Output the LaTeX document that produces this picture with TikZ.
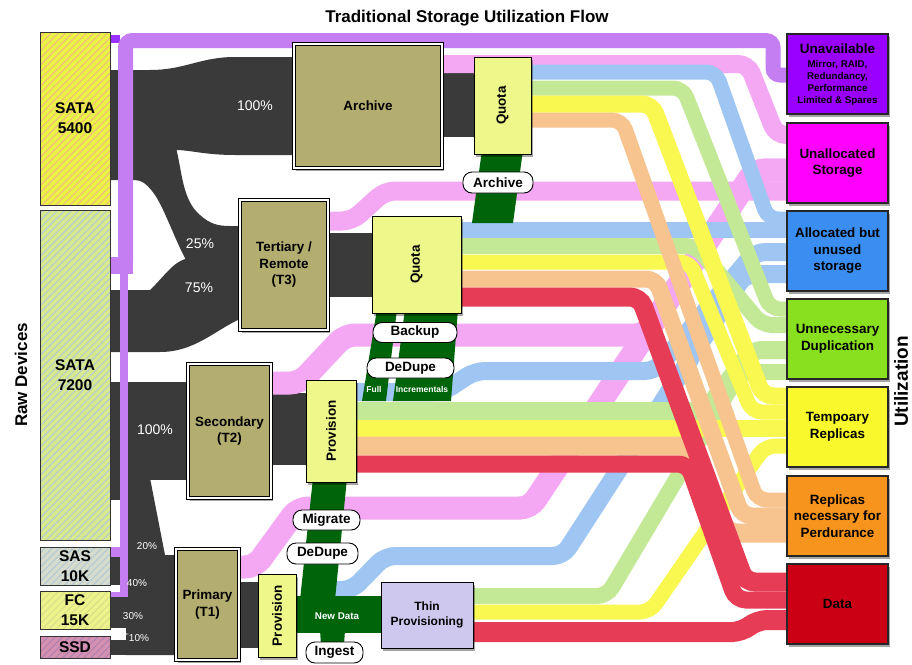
\documentclass[tikz,border=0pt]{standalone}
\usepackage{fontspec}
\setmainfont{Liberation Sans}
\usetikzlibrary{shadows,patterns.meta}
\definecolor{blk}{HTML}{3A3A3A}
\definecolor{purp}{HTML}{C47EF2}
\definecolor{purpdark}{HTML}{9B30FF}
\definecolor{pinkb}{HTML}{F4A8F4}
\definecolor{blueb}{HTML}{9FC5F2}
\definecolor{greenb}{HTML}{C3E997}
\definecolor{yellowb}{HTML}{F8F850}
\definecolor{orangeb}{HTML}{F7C38E}
\definecolor{redb}{HTML}{E63C55}
\definecolor{dgreen}{HTML}{00650A}
\definecolor{tierfill}{HTML}{B3AD70}
\definecolor{quotafill}{HTML}{EEF78A}
\definecolor{thinfill}{HTML}{CFC8EE}
\definecolor{sata5}{HTML}{EAF244}
\definecolor{sata5s}{HTML}{F2B882}
\definecolor{sata7}{HTML}{D8E88C}
\definecolor{sata7s}{HTML}{AFCAD8}
\definecolor{sasc}{HTML}{D6DCCB}
\definecolor{sascs}{HTML}{B2C8D8}
\definecolor{fcc}{HTML}{EEF28A}
\definecolor{fccs}{HTML}{D6E08C}
\definecolor{ssdc}{HTML}{D490B0}
\definecolor{ssdcs}{HTML}{B080B0}
\definecolor{unav}{HTML}{9A00FF}
\definecolor{unal}{HTML}{FF00FF}
\definecolor{alloc}{HTML}{3A8EF2}
\definecolor{unnec}{HTML}{88E01E}
\definecolor{tempc}{HTML}{F8F82C}
\definecolor{repc}{HTML}{F7941D}
\definecolor{datac}{HTML}{CC0014}
\newcommand{\mylbl}{\fontsize{13.4}{16.5}\selectfont\bfseries}
\newcommand{\mydev}{\fontsize{15.5}{20}\selectfont\bfseries}
\newcommand{\mypill}{\fontsize{13.5}{15}\selectfont\bfseries}
\begin{document}
\begin{tikzpicture}[x=1pt,y=-1pt,
  shad/.style={drop shadow={shadow xshift=2pt,shadow yshift=-2.5pt,opacity=0.35,fill=black}},
  tierbox/.style={draw=black,line width=0.7pt,double=white,double distance=2.6pt,fill=tierfill,inner sep=0pt,align=center,font=\mylbl,shad},
  quotabox/.style={draw=black,line width=1pt,fill=quotafill,inner sep=0pt,shad},
  devbox/.style={draw=black!80,line width=1pt,inner sep=0pt,align=center,font=\mydev,minimum width=70pt},
  stripes/.style 2 args={preaction={fill=#1},pattern={Lines[angle=45,distance=5pt,line width=1pt]},pattern color=#2},
  utilbox/.style={draw=black!85,line width=1.3pt,inner sep=0pt,align=center,font=\mylbl,minimum width=101pt,minimum height=80pt,shad},
  pill/.style={draw=black,line width=0.9pt,fill=white,rounded corners=9pt,inner sep=0pt,font=\mypill},
  vlabel/.style={rotate=90,font=\mylbl,inner sep=0pt},
  pct/.style={text=white,font=\fontsize{14}{16}\selectfont,inner sep=0pt},
  spct/.style={text=white,font=\fontsize{10}{12}\selectfont,inner sep=0pt},
  wsmall/.style={text=white,font=\fontsize{8.5}{10}\selectfont\bfseries,inner sep=0pt},
  flow/.style={rounded corners=10pt},
]
\useasboundingbox[fill=white] (0,0) rectangle (912,664);

% ---------- black (raw capacity) flows ----------
\fill[blk] (108,70) -- (150,70) .. controls (185,70) and (200,57) .. (235,57) -- (296,57) -- (296,155) -- (235,155) .. controls (205,155) and (190,150) .. (176,150) -- (108,150) -- cycle;
\fill[blk] (108,148) -- (176,148) .. controls (182,170) and (182,200) .. (200,215) .. controls (210,224) and (218,226) .. (230,226) -- (242,226) -- (242,262) -- (187,262) .. controls (175,240) and (165,210) .. (155,195) .. controls (148,185) and (142,180) .. (135,180) -- (108,180) -- cycle;
\fill[blk] (108,290) -- (150,290) .. controls (165,276) and (175,258) .. (192,258) -- (242,258) -- (242,318) .. controls (215,330) and (195,352) .. (160,352) -- (108,352) -- cycle;
\fill[blk] (108,382) -- (190,382) -- (190,480) -- (108,480) -- cycle;
\fill[blk] (108,470) rectangle (128,500);
\fill[blk] (126,478) -- (150,478) -- (165,555) -- (178,555) -- (178,655) -- (126,655) -- cycle;
\fill[blk] (108,557) rectangle (130,585);
\fill[blk] (108,597) rectangle (130,628);
\fill[blk] (108,640) rectangle (130,655);
\fill[white] (108,630) -- (129,634) -- (108,638) -- cycle;
\fill[blk] (326,233) rectangle (376,297);
\fill[blk] (440,73) rectangle (478,137);
\fill[blk] (270,393) rectangle (310,465);
\fill[blk] (238,582) rectangle (262,648);

% ---------- purple (unavailable) ----------
\fill[purpdark] (110,35) rectangle (120,43);
\draw[purp,line width=15,rounded corners=7pt] (125.5,262) -- (125.5,40.5) -- (773,40.5) -- (773,75) -- (790,75);
\fill[purp] (110,257) rectangle (133,274);
\fill[purp] (120,262) rectangle (128,597);
\fill[purp] (110,547) rectangle (128,557);
\fill[purp] (110,592) rectangle (128,597);

% ---------- pink (unallocated) ----------
\draw[pinkb,flow,line width=18] (440,64) -- (748,64) -- (776,135) -- (790,135);
\draw[pinkb,flow,line width=19] (326,221) -- (352,221) -- (385,191) -- (790,191);
\draw[pinkb,flow,line width=23] (270,383) -- (300,383) -- (345,335) -- (645,335) -- (755,170) -- (790,170);
\draw[pinkb,flow,line width=23] (238,567) -- (255,567) -- (298,508) -- (530,508) -- (755,170) -- (790,170);

% ---------- blue (allocated but unused) ----------
\draw[blueb,flow,line width=15] (528,72) -- (716,72) -- (768,219) -- (790,219);
\draw[blueb,flow,line width=16] (458,230) -- (790,230);
\draw[blueb,flow,line width=18] (352,392) -- (443,392) -- (475,371) -- (655,371) -- (755,252) -- (790,252);
\draw[blueb,flow,line width=18] (330,590) -- (352,590) -- (385,556) -- (563,556) -- (745,274) -- (790,274);

% ---------- green (unnecessary duplication) ----------
\draw[greenb,flow,line width=15] (528,88) -- (683,88) -- (770,309) -- (790,309);
\draw[greenb,flow,line width=16] (458,246) -- (696,246) -- (762,325) -- (790,325);
\draw[greenb,flow,line width=18] (352,411) -- (705,411) -- (752,350) -- (790,350);
\draw[greenb,flow,line width=16] (470,596) -- (607,596) -- (740,372) -- (790,372);

% ---------- yellow (temporary replicas) ----------
\draw[yellowb,flow,line width=17] (528,104) -- (652,104) -- (763,396) -- (790,396);
\draw[yellowb,flow,line width=15] (458,262) -- (690,262) -- (752,412) -- (790,412);
\draw[yellowb,flow,line width=17] (352,428) -- (790,428);
\draw[yellowb,flow,line width=15] (470,612) -- (650,612) -- (765,446) -- (790,446);

% ---------- orange (replicas for perdurance) ----------
\draw[orangeb,flow,line width=15] (528,120) -- (622,120) -- (757,500) -- (790,500);
\draw[orangeb,flow,line width=17] (458,279) -- (656,279) -- (742,516) -- (790,516);
\draw[orangeb,flow,line width=19] (352,446) -- (690,446) -- (727,533) -- (790,533);

% ---------- red (data) ----------
\draw[redb,flow,line width=19] (458,297) -- (640,297) -- (745,582) -- (790,582);
\draw[redb,flow,line width=17] (352,464) -- (688,464) -- (736,600) -- (790,600);
\draw[redb,flow,line width=20] (470,632) -- (742,632) -- (757,620) -- (790,620);

% ---------- dark green (data movement) ----------
\fill[dgreen] (482,150) -- (523,150) -- (513,223) -- (472,223) -- cycle;
\fill[dgreen] (377,309) -- (397,309) -- (386,401) -- (362,401) -- cycle;
\fill[dgreen] (405,309) -- (458,309) -- (451,401) -- (393,401) -- cycle;
\fill[dgreen] (313,478) -- (347,478) -- (335,600) -- (300,600) -- cycle;
\fill[dgreen] (292,596) rectangle (385,633);
\fill[dgreen] (320,630) -- (345,630) -- (344,645) -- (321,645) -- cycle;

% ---------- raw devices ----------
\node[devbox,stripes={sata5}{sata5s},minimum height=173pt] (sata5) at (75,118.5) {SATA\\5400};
\node[devbox,stripes={sata7}{sata7s},minimum height=330pt] (sata7) at (75,375) {SATA\\7200};
\node[devbox,stripes={sasc}{sascs},minimum height=38pt] (sas) at (75,566) {SAS\\10K};
\node[devbox,stripes={fcc}{fccs},minimum height=38pt] (fc) at (75,610) {FC\\15K};
\node[devbox,stripes={ssdc}{ssdcs},minimum height=22pt] (ssd) at (75,647) {SSD};

% ---------- tiers ----------
\node[tierbox,minimum width=148pt,minimum height=124pt] (archive) at (368,106) {Archive};
\node[tierbox,minimum width=88pt,minimum height=130pt] (tert) at (284,265) {Tertiary /\\Remote\\(T3)};
\node[tierbox,minimum width=83pt,minimum height=134pt] (sec) at (229.5,431) {Secondary\\(T2)};
\node[tierbox,minimum width=63pt,minimum height=111pt] (prim) at (207.5,604.5) {Primary\\(T1)};

% ---------- quota / provision ----------
\node[quotabox,minimum width=57pt,minimum height=97pt] (quota1) at (502.5,105.5) {};
\node[vlabel] (quota1t) at (quota1.center) {Quota};
\node[quotabox,minimum width=89pt,minimum height=97pt] (quota2) at (416.5,264.5) {};
\node[vlabel] (quota2t) at (quota2.center) {Quota};
\node[quotabox,minimum width=50pt,minimum height=102pt] (prov2) at (331,431) {};
\node[vlabel] (prov2t) at (prov2.center) {Provision};
\node[quotabox,minimum width=38pt,minimum height=83pt] (prov1) at (277,615.5) {};
\node[vlabel] (prov1t) at (prov1.center) {Provision};
\node[draw=black,line width=1pt,fill=thinfill,inner sep=0pt,shad,align=center,font=\fontsize{12}{15}\selectfont\bfseries,minimum width=92pt,minimum height=66pt] (thin) at (427,615) {Thin\\Provisioning};

% ---------- utilization ----------
\node[utilbox,fill=unav] (unav) at (837.5,74) {};
\node[font=\fontsize{13.5}{15}\selectfont\bfseries,inner sep=0pt] (unavt) at (837.5,49) {Unavailable};
\node[align=center,font=\fontsize{9.8}{12.3}\selectfont\bfseries,inner sep=0pt] (unavs) at (837.5,83) {Mirror, RAID,\\Redundancy,\\Performance\\Limited \& Spares};
\node[utilbox,fill=unal] (unal) at (837.5,163) {Unallocated\\Storage};
\node[utilbox,fill=alloc] (alloc) at (837.5,251) {Allocated but\\unused\\storage};
\node[utilbox,fill=unnec] (unnec) at (837.5,339) {Unnecessary\\Duplication};
\node[utilbox,fill=tempc] (tempc) at (837.5,427) {Tempoary\\Replicas};
\node[utilbox,fill=repc] (repc) at (837.5,516) {Replicas\\necessary for\\Perdurance};
\node[utilbox,fill=datac] (datac) at (837.5,604) {Data};

% ---------- pills ----------
\node[pill,minimum width=70pt,minimum height=21pt] (parch) at (498,182.5) {Archive};
\node[pill,minimum width=84pt,minimum height=20pt] (pbackup) at (415,332.5) {Backup};
\node[pill,minimum width=87pt,minimum height=20pt] (pdedup1) at (410.5,368) {DeDupe};
\node[pill,minimum width=67pt,minimum height=20pt] (pmigrate) at (326.5,520) {Migrate};
\node[pill,minimum width=71pt,minimum height=21pt] (pdedup2) at (322.5,553.5) {DeDupe};
\node[pill,minimum width=57pt,minimum height=21pt] (pingest) at (334.5,652.5) {Ingest};

% ---------- labels ----------
\node[pct] (p100a) at (255,106) {100\%};
\node[pct] (p25) at (200,244) {25\%};
\node[pct] (p75) at (199,288) {75\%};
\node[pct] (p100b) at (155,430) {100\%};
\node[spct] (p20) at (147,546) {20\%};
\node[spct] (p40) at (137,583) {40\%};
\node[spct] (p30) at (133,616) {30\%};
\node[spct] (p10) at (139,638) {10\%};
\node[wsmall] (lfull) at (374,389) {Full};
\node[wsmall] (lincr) at (422,389) {Incrementals};
\node[wsmall,font=\fontsize{9.8}{11}\selectfont\bfseries] (lnew) at (337,616) {New Data};

\node[font=\fontsize{17}{20}\selectfont\bfseries,inner sep=0pt] (title) at (467,18) {Traditional Storage Utilization Flow};
\node[rotate=90,font=\fontsize{17}{20}\selectfont\bfseries,inner sep=0pt] (rawdev) at (21,375) {Raw Devices};
\node[rotate=90,font=\fontsize{19}{22}\selectfont\bfseries,inner sep=0pt] (utiliz) at (901,381.5) {Utilization};
\end{tikzpicture}
\end{document}
